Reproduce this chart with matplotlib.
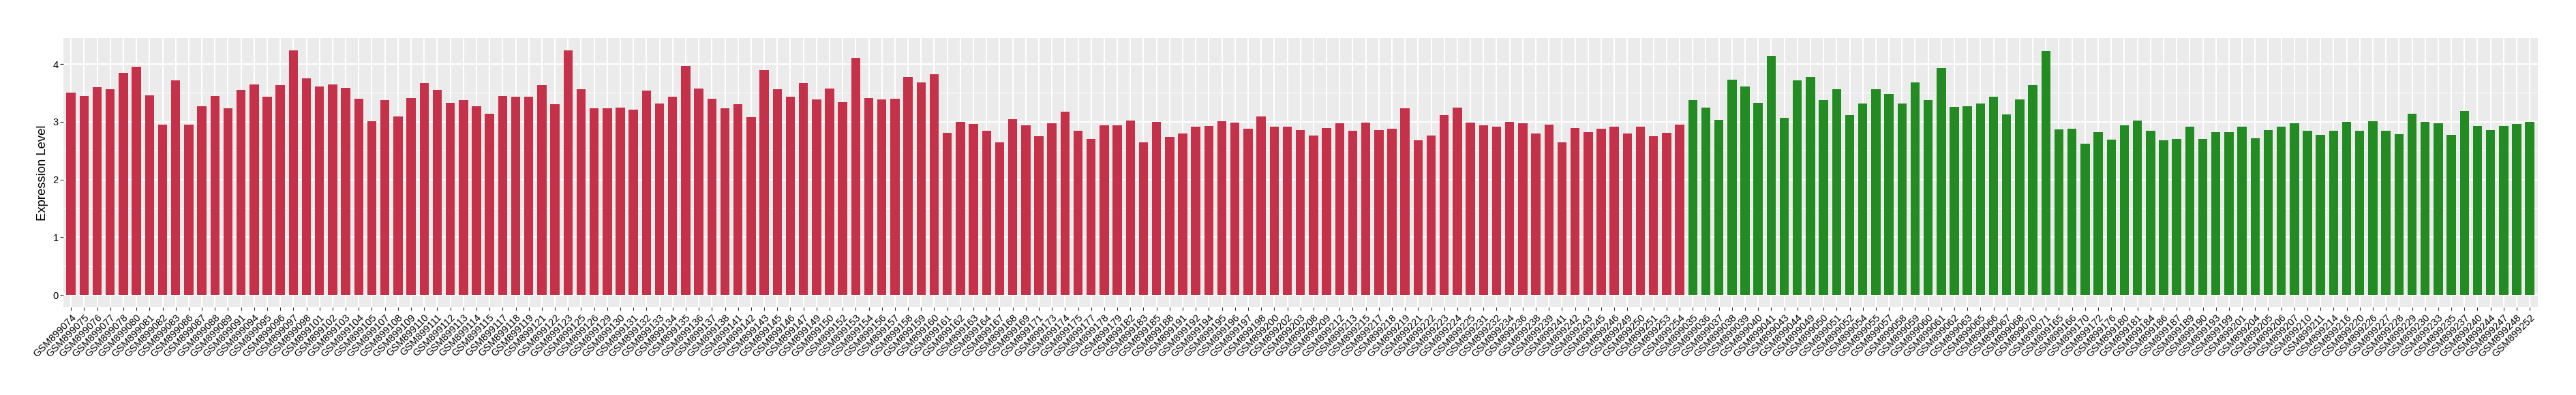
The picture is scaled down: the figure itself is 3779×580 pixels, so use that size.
import matplotlib
matplotlib.use("Agg")
import matplotlib.pyplot as plt
import matplotlib.transforms as mtransforms
import numpy as np

plt.rcParams['font.family'] = ['Liberation Sans', 'DejaVu Sans']

red_ids = ["074","075","076","077","078","080","081","082","083","086","087","088","089","091","094","095","096","097","098","101","102",
           "103","104","105","107","108","109","110","111","112","113","114","115","117","118","119","121","122","123","125","126","129","130","131","132",
           "133","134","135","136","137","138","141","142","143","145","146","147","149","150","152","153","154","156","157","158","159","160","161",
           "162","163","164","167","168","169","171","173","174","175","177","178","179","182","183","185","188","191","192","194","195","196","197",
           "198","200","202","203","208","209","212","213","215","217","218","219","221","222","223","224","225","231","232","234","236","238","239","241",
           "242","243","245","246","249","250","251","253","254"]
red_values = [3.51,3.45,3.60,3.57,3.85,3.95,3.46,2.95,3.72,2.95,3.27,3.45,3.23,3.55,3.65,3.43,3.64,4.24,3.75,3.61,3.65,
              3.59,3.40,3.01,3.38,3.09,3.41,3.67,3.55,3.33,3.37,3.27,3.14,3.45,3.43,3.44,3.64,3.30,4.24,3.57,3.23,3.23,3.25,3.21,3.54,
              3.32,3.43,3.96,3.58,3.40,3.23,3.30,3.08,3.90,3.57,3.44,3.67,3.39,3.58,3.34,4.11,3.41,3.39,3.40,3.78,3.68,3.83,2.81,
              3.00,2.96,2.84,2.64,3.05,2.94,2.75,2.98,3.18,2.84,2.70,2.94,2.94,3.02,2.64,3.00,2.74,2.80,2.91,2.93,3.01,2.99,2.88,
              3.09,2.91,2.91,2.86,2.76,2.89,2.98,2.84,2.99,2.86,2.88,3.23,2.68,2.76,3.12,3.25,2.99,2.94,2.91,3.00,2.98,2.80,2.95,2.64,
              2.89,2.82,2.88,2.91,2.80,2.91,2.75,2.81,2.95]

green_ids = ["035","036","037","038","039","040","041","043","044","049","050","051","052","054",
             "055","057","058","059","060","061","062","063","065","066","067","068","070","071",
             "165","166","170","172","176","180","181","184","186","187",
             "189","190","193","199","201","204","205","206","207","210","211","214","216","220","226","227","228","229","230","233","235","237","240","244","247","248","252"]
green_values = [3.38,3.25,3.03,3.73,3.61,3.33,4.14,3.07,3.72,3.78,3.37,3.57,3.12,3.32,
                3.57,3.48,3.32,3.68,3.38,3.93,3.26,3.27,3.32,3.43,3.13,3.39,3.64,4.22,
                2.87,2.88,2.62,2.82,2.69,2.94,3.02,2.84,2.68,2.70,
                2.91,2.70,2.82,2.82,2.91,2.71,2.86,2.91,2.98,2.84,2.77,2.84,3.00,2.84,3.01,2.84,2.79,3.14,3.00,2.98,2.77,3.19,2.93,2.86,2.93,2.96,3.00]

red_labels = ["GSM899" + s for s in red_ids]
green_labels = ["GSM899" + s for s in green_ids]
labels = red_labels + green_labels
values = red_values + green_values
colors = ["#C43148"] * len(red_values) + ["#228B22"] * len(green_values)

W, H = 3780, 580
fig = plt.figure(figsize=(W / 100, H / 100), dpi=100)
left, right, top, bottom = 92.7, 3722.7, 55.8, 451.0
ax = fig.add_axes([left / W, (H - bottom) / H, (right - left) / W, (bottom - top) / H])
ax.set_facecolor("#EBEBEB")

n = len(values)
x = np.arange(n)
ax.bar(x, values, width=0.7, color=colors, zorder=3)

vmax = max(values)
ax.set_ylim(-0.05 * vmax, 1.05 * vmax)
ax.set_xlim(-0.6, n - 1 + 0.6)

ax.set_yticks([0, 1, 2, 3, 4])
ax.set_yticks([0.5, 1.5, 2.5, 3.5], minor=True)
ax.set_xticks(x)
ax.set_xticklabels(labels, rotation=45, ha="right", va="top", rotation_mode="anchor", fontsize=10.5, color="black")
offset = mtransforms.ScaledTranslation(7 / 100, 0, fig.dpi_scale_trans)
for lab in ax.get_xticklabels():
    lab.set_transform(lab.get_transform() + offset)

ax.grid(which="major", color="white", linewidth=1.5, zorder=0)
ax.grid(which="minor", axis="y", color="white", linewidth=0.7, zorder=0)
ax.set_axisbelow(True)
for s in ax.spines.values():
    s.set_visible(False)

ax.tick_params(axis="both", which="major", length=3.5, width=0.8, color="#333333", pad=1.5)
ax.tick_params(axis="x", pad=2.3)
ax.tick_params(axis="y", labelsize=10.5, labelcolor="black")
ax.tick_params(which="minor", length=0)

ax.set_ylabel("Expression Level", fontsize=13.3, color="black", labelpad=5)

fig.savefig("out.png", dpi=100)
